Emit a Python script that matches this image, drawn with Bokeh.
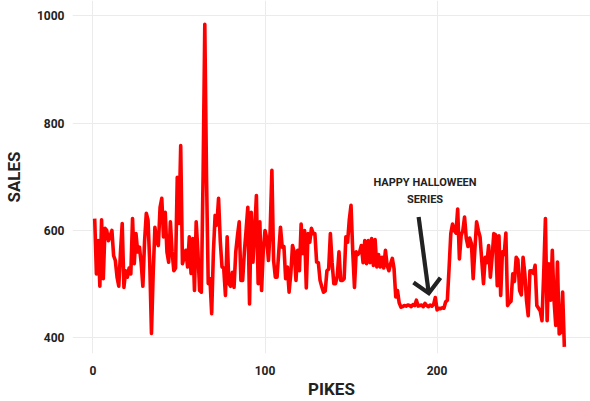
from bokeh.plotting import figure
from bokeh.models import Range1d, FixedTicker, ColumnDataSource
from bokeh.core.properties import value
from bokeh.embed import file_html
from bokeh.resources import INLINE

sales = [
    622, 519, 581, 496, 620, 510, 604, 600, 581, 590,
    600, 553, 544, 513, 496, 560, 613, 494, 525, 513,
    530, 519, 622, 538, 594, 560, 569, 540, 496, 580,
    632, 619, 540, 408, 520, 606, 580, 572, 643, 660,
    588, 634, 560, 541, 616, 560, 525, 530, 699, 613,
    758, 538, 550, 563, 532, 588, 520, 585, 488, 616,
    560, 488, 485, 700, 984, 700, 501, 510, 445, 560,
    628, 610, 660, 580, 532, 530, 479, 588, 501, 496,
    522, 494, 560, 590, 616, 507, 507, 560, 600, 643,
    463, 634, 541, 600, 665, 501, 616, 488, 563, 600,
    585, 544, 600, 712, 544, 513, 513, 560, 606, 569,
    570, 510, 532, 485, 520, 572, 560, 507, 563, 525,
    612, 557, 600, 493, 594, 578, 604, 594, 594, 541,
    540, 507, 495, 485, 487, 525, 528, 594, 540, 501,
    501, 515, 560, 507, 507, 510, 588, 578, 620, 647,
    560, 494, 560, 555, 560, 572, 540, 581, 538, 581,
    540, 585, 535, 583, 532, 555, 532, 550, 530, 563,
    535, 525, 538, 548, 529, 476, 488, 465, 457,
    458, 460, 459, 461, 460, 458, 462, 460, 470, 459,
    460, 461, 458, 464, 460, 458, 461, 459, 462, 475,
    452, 455, 454, 456, 455,
    467, 470, 530, 594, 612, 600, 595, 640, 547, 590,
    600, 625, 585, 570, 586, 575, 510, 565, 616, 600,
    588, 544, 501, 550, 540, 572, 513, 550, 594, 592,
    497, 590, 479, 560, 555, 595, 460, 465, 468, 519,
    505, 550, 545, 488, 480, 550, 520, 470, 441, 525,
    525, 520, 535, 460, 455, 450, 432, 520, 622, 432,
    538, 470, 563, 470, 423, 541, 407, 410, 485, 383,
]
pikes = list(range(1, len(sales) + 1))

x_ticks = [0, 100, 200]
y_ticks = [400, 600, 800, 1000]

note_lines = ["HAPPY HALLOWEEN", "SERIES"]
note_x = [193, 193]
note_y = [689, 658]

# arrow (annotation): shaft start, tip, and head arm ends
arrow_start = (189.3, 625)
arrow_tip = (195.2, 483)
arm_a = (186.3, 503)
arm_b = (202.0, 512)

FONT = "Roboto"
INK = "#222222"

p = figure(width=590, height=401, output_backend="svg", toolbar_location=None,
           x_range=Range1d(-11.9, 289.2), y_range=Range1d(370.7, 1028.5),
           min_border_left=72, min_border_right=0, min_border_top=0,
           min_border_bottom=48)
p.outline_line_color = None
p.background_fill_color = "white"

src = ColumnDataSource(dict(pikes=pikes, sales=sales))
p.line("pikes", "sales", source=src, line_color="#ff0000", line_width=3.6,
       line_join="round")

# annotation
p.text(x=note_x, y=note_y, text=note_lines, text_font=value(FONT),
       text_font_style="bold", text_font_size="11px", text_color=INK,
       text_align="center", text_baseline="middle")
p.line([arrow_start[0], arrow_tip[0]], [arrow_start[1], arrow_tip[1]],
       line_color=INK, line_width=4.2)
p.line([arm_a[0], arrow_tip[0], arm_b[0]], [arm_a[1], arrow_tip[1], arm_b[1]],
       line_color=INK, line_width=4.2, line_join="miter")

for ax in (p.xaxis, p.yaxis):
    ax.axis_line_color = None
    ax.major_tick_line_color = None
    ax.minor_tick_line_color = None
    ax.major_label_text_font = FONT
    ax.major_label_text_font_style = "bold"
    ax.major_label_text_font_size = "12px"
    ax.major_label_text_color = INK
    ax.axis_label_text_font = FONT
    ax.axis_label_text_font_style = "bold"
    ax.axis_label_text_font_size = "17px"
    ax.axis_label_text_color = INK

p.xaxis.ticker = FixedTicker(ticks=x_ticks)
p.yaxis.ticker = FixedTicker(ticks=y_ticks)
p.xaxis.axis_label = "PIKES"
p.yaxis.axis_label = "SALES"
p.xaxis.major_label_standoff = 6
p.xaxis.axis_label_standoff = 1
p.yaxis.major_label_standoff = 2
p.yaxis.axis_label_standoff = 10

p.xgrid.ticker = FixedTicker(ticks=x_ticks)
p.ygrid.ticker = FixedTicker(ticks=y_ticks)
p.grid.grid_line_color = "#ebebeb"
p.grid.grid_line_width = 1

open("out.html", "w").write(file_html(p, INLINE))
